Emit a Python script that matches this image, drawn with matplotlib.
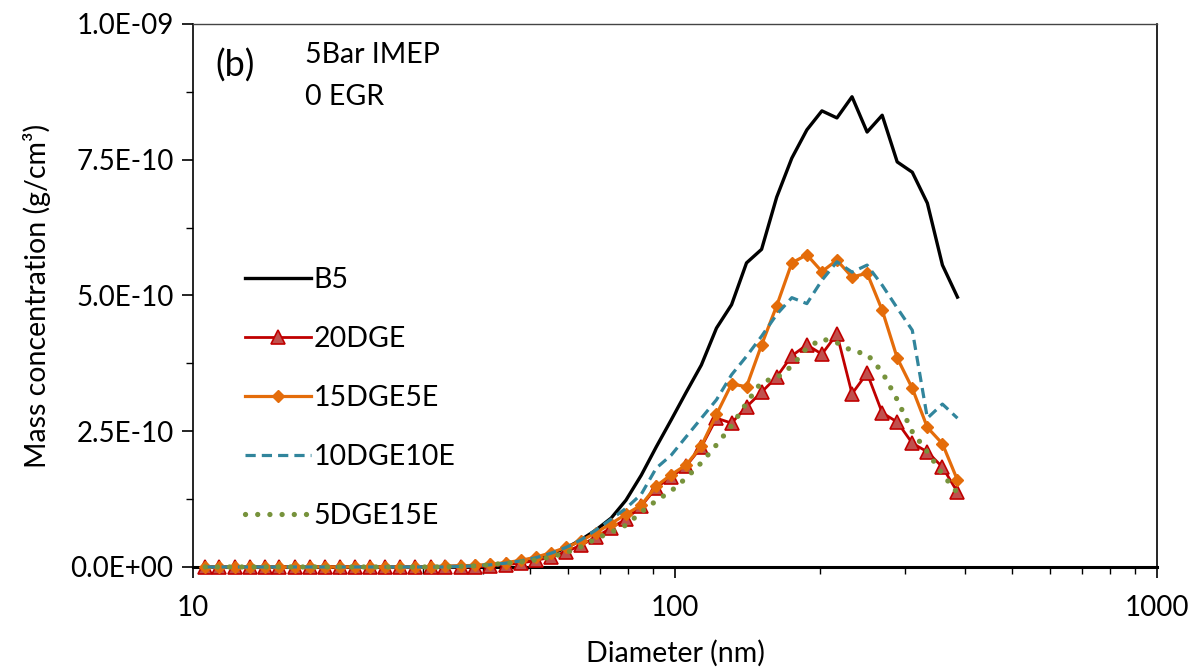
import matplotlib.pyplot as plt
import numpy as np
from matplotlib.ticker import FixedLocator, FuncFormatter, LogLocator, NullFormatter

plt.rcParams.update(
    {
        "font.family": ["Lato", "DejaVu Sans"],
        "font.size": 20,
        "axes.linewidth": 1.2,
    }
)

# SMPS bin mid-points (nm), every other channel of 64/decade
diameter = [
    10.6, 11.3, 12.2, 13.1, 14.1, 15.1, 16.3, 17.5, 18.8, 20.2,
    21.7, 23.3, 25.0, 26.9, 28.9, 31.1, 33.4, 35.9, 38.5, 41.4,
    44.5, 47.8, 51.4, 55.2, 59.4, 63.8, 68.5, 73.7, 79.1, 85.1,
    91.4, 98.2, 105.5, 113.4, 121.9, 131.0, 140.7, 151.2, 162.5, 174.7,
    187.7, 201.7, 216.7, 232.9, 250.3, 269.0, 289.0, 310.6, 333.8, 358.7,
    385.4,
]

# Mass concentration, units of 1e-10 g/cm3
b5 = [
    0, 0, 0, 0, 0, 0, 0, 0, 0, 0,
    0, 0, 0, 0, 0, 0.005, 0.01, 0.015, 0.02, 0.03,
    0.06, 0.10, 0.16, 0.24, 0.35, 0.50, 0.68, 0.90, 1.23, 1.69,
    2.21, 2.71, 3.22, 3.72, 4.40, 4.83, 5.60, 5.85, 6.81, 7.53,
    8.05, 8.40, 8.27, 8.66, 8.01, 8.32, 7.46, 7.27, 6.70, 5.56,
    4.97,
]
dge20 = [
    0, 0, 0, 0, 0, 0, 0, 0, 0, 0,
    0, 0, 0, 0, 0, 0, 0, 0, 0, 0.02,
    0.04, 0.07, 0.12, 0.18, 0.28, 0.40, 0.55, 0.72, 0.88, 1.12,
    1.46, 1.66, 1.86, 2.21, 2.74, 2.65, 2.95, 3.22, 3.50, 3.89,
    4.09, 3.92, 4.29, 3.19, 3.57, 2.84, 2.67, 2.28, 2.12, 1.84,
    1.38,
]
dge15e5 = [
    0, 0, 0, 0, 0, 0, 0, 0, 0, 0,
    0, 0, 0, 0, 0, 0, 0.01, 0.02, 0.03, 0.05,
    0.08, 0.12, 0.18, 0.26, 0.36, 0.48, 0.63, 0.80, 0.97, 1.14,
    1.49, 1.70, 1.88, 2.23, 2.81, 3.37, 3.32, 4.09, 4.81, 5.60,
    5.75, 5.44, 5.65, 5.34, 5.41, 4.73, 3.85, 3.29, 2.57, 2.27,
    1.60,
]
dge10e10 = [
    0, 0, 0, 0, 0, 0, 0, 0, 0, 0,
    0, 0, 0, 0, 0, 0, 0, 0.01, 0.02, 0.04,
    0.07, 0.11, 0.17, 0.25, 0.36, 0.50, 0.68, 0.88, 1.08, 1.34,
    1.82, 2.06, 2.40, 2.74, 3.08, 3.54, 3.88, 4.25, 4.65, 4.96,
    4.85, 5.28, 5.62, 5.43, 5.56, 5.19, 4.77, 4.36, 2.74, 3.00,
    2.74,
]
dge5e15 = [
    0, 0, 0, 0, 0, 0, 0, 0, 0, 0,
    0, 0, 0, 0, 0, 0, 0, 0.01, 0.02, 0.04,
    0.07, 0.09, 0.13, 0.18, 0.26, 0.37, 0.52, 0.64, 0.77, 1.01,
    1.22, 1.40, 1.64, 1.92, 2.25, 2.60, 3.02, 3.41, 3.48, 3.70,
    4.03, 4.20, 4.13, 3.98, 3.92, 3.59, 3.08, 2.49, 2.12, 1.71,
    1.36,
]

y_ticks = [0, 2.5e-10, 5.0e-10, 7.5e-10, 1.0e-9]

fig = plt.figure(figsize=(12.02, 6.72), dpi=100)
ax = fig.add_axes([0.1606, 0.1563, 0.8020, 0.8080])

d = np.array(diameter)
scale = 1e-10
common = dict(clip_on=False, zorder=3, solid_joinstyle="round")

ax.plot(d, np.array(b5) * scale, color="black", lw=2.4, label="B5", **common)
ax.plot(d, np.array(dge20) * scale, color="#C00000", lw=2.0, marker="^",
        markersize=9.5, markerfacecolor="#C0504D", markeredgecolor="#C00000",
        markeredgewidth=1.2, label="20DGE", **common)
ax.plot(d, np.array(dge15e5) * scale, color="#E46C0A", lw=2.3, marker="D",
        markersize=6.5, markerfacecolor="#E46C0A", markeredgecolor="#E46C0A",
        label="15DGE5E", **common)
ax.plot(d, np.array(dge10e10) * scale, color="#31859C", lw=2.3,
        linestyle=(0, (3.2, 1.9)), label="10DGE10E", **common)
ax.plot(d, np.array(dge5e15) * scale, color="#77933C", lw=3.8,
        linestyle=(0, (0.01, 2.3)), dash_capstyle="round",
        label="5DGE15E", **common)

ax.set_xscale("log")
ax.set_xlim(10, 1000)
ax.set_ylim(0, 1.0e-9)

ax.xaxis.set_major_formatter(FuncFormatter(lambda v, p: f"{v:g}"))
ax.xaxis.set_minor_locator(LogLocator(base=10, subs=np.arange(2, 10)))
ax.xaxis.set_minor_formatter(NullFormatter())
ax.yaxis.set_major_locator(FixedLocator(y_ticks))
ax.yaxis.set_minor_locator(FixedLocator(np.arange(0, 1.01e-9, 1.25e-10)))
ax.yaxis.set_major_formatter(FuncFormatter(lambda v, p: f"{v:.1E}"))

ax.tick_params(which="major", direction="out", length=8, width=1.2,
               labelsize=20, pad=6)
ax.tick_params(which="minor", direction="out", length=5, width=1.0)
ax.tick_params(axis="x", which="major", pad=12)

ax.spines["bottom"].set_linewidth(2.2)
ax.spines["top"].set_linewidth(1.0)
ax.spines["top"].set_color("#444444")
ax.spines["right"].set_linewidth(1.2)

ax.set_xlabel("Diameter (nm)", fontsize=20.5, labelpad=14)
ax.set_ylabel("Mass concentration (g/cm³)", fontsize=20.5, labelpad=14)

ax.text(0.023, 0.923, "(b)", transform=ax.transAxes, fontsize=26,
        va="center", ha="left")
ax.text(0.116, 0.942, "5Bar IMEP", transform=ax.transAxes, fontsize=20.5,
        va="center", ha="left")
ax.text(0.116, 0.866, "0 EGR", transform=ax.transAxes, fontsize=20.5,
        va="center", ha="left")

ax.legend(loc="upper left", bbox_to_anchor=(0.054, 0.552), frameon=False,
          fontsize=20.5, handlelength=2.3, handletextpad=0.1,
          labelspacing=1.16, borderpad=0, borderaxespad=0)

fig.savefig("out.png", dpi=100)
